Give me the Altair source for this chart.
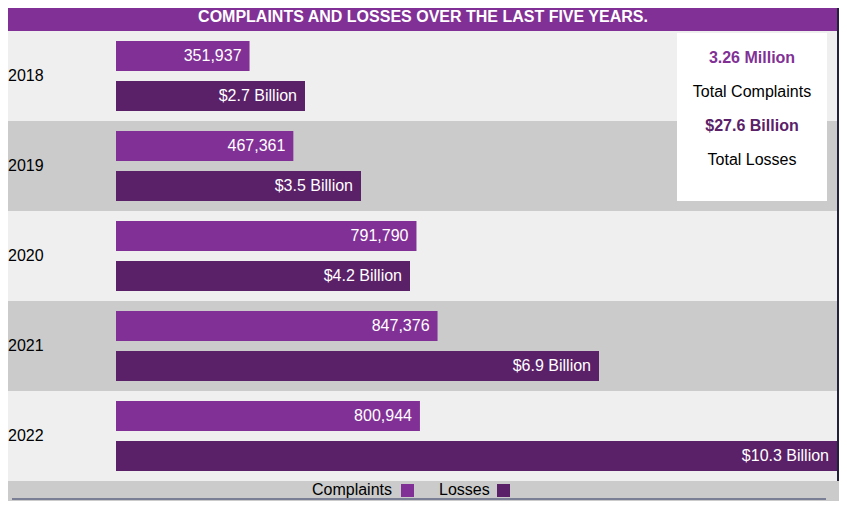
import altair as alt
import pandas as pd

# ---- data ----
years = ["2018", "2019", "2020", "2021", "2022"]
complaints = [351937, 467361, 791790, 847376, 800944]
losses = [2.7, 3.5, 4.2, 6.9, 10.3]
complaint_labels = ["351,937", "467,361", "791,790", "847,376", "800,944"]
loss_labels = ["$2.7 Billion", "$3.5 Billion", "$4.2 Billion", "$6.9 Billion", "$10.3 Billion"]
row_shades = ["light", "dark", "light", "dark", "light"]
series_names = ["Complaints", "Losses"]
summary_values = ["3.26 Million", "$27.6 Billion"]
summary_captions = ["Total Complaints", "Total Losses"]
title_text = "COMPLAINTS AND LOSSES OVER THE LAST FIVE YEARS."

# ---- style ----
W, H = 831, 493
FONT = "Liberation Sans"
C_PURPLE = "#813196"
C_DARK = "#5a2068"
C_LIGHT_BG = "#efefef"
C_DARK_BG = "#cbcbcb"
X0, X1 = 108, 829

rows = pd.DataFrame({"year": years, "shade": row_shades})
cdf = pd.DataFrame({"year": years, "series": "Complaints", "value": complaints, "label": complaint_labels})
ldf = pd.DataFrame({"year": years, "series": "Losses", "value": losses, "label": loss_labels})

yscale = alt.Scale(domain=years, range=[23, 473], paddingInner=0, paddingOuter=0)
yoff = alt.Scale(domain=series_names, paddingInner=0.25, paddingOuter=0.25)

bg_rows = alt.Chart(rows).mark_rect().encode(
    y=alt.Y("year:N", scale=yscale, axis=None),
    x=alt.value(0), x2=alt.value(W),
    color=alt.Color("shade:N", scale=alt.Scale(domain=["light", "dark"], range=[C_LIGHT_BG, C_DARK_BG]), legend=None),
)

year_text = alt.Chart(rows).mark_text(align="left", baseline="middle", font=FONT, fontSize=16, color="black").encode(
    y=alt.Y("year:N", scale=yscale, axis=None),
    x=alt.value(0),
    text="year:N",
)

def bars(df, domain, color):
    xs = alt.X("value:Q", scale=alt.Scale(domain=domain, range=[X0, X1], zero=True, nice=False), axis=None)
    b = alt.Chart(df).mark_bar(color=color, cornerRadius=0).encode(
        y=alt.Y("year:N", scale=yscale, axis=None),
        yOffset=alt.YOffset("series:N", scale=yoff),
        x=xs,
    )
    t = alt.Chart(df).mark_text(align="right", baseline="middle", dx=-8, font=FONT, fontSize=16, color="white").encode(
        y=alt.Y("year:N", scale=yscale, axis=None),
        yOffset=alt.YOffset("series:N", scale=yoff),
        x=xs,
        text="label:N",
    )
    return alt.layer(b, t)

comp_layer = bars(cdf, [0, 1900000], C_PURPLE)
loss_layer = bars(ldf, [0, 10.3], C_DARK)

title_df = pd.DataFrame({"t": [title_text]})
title_bar = alt.Chart(title_df).mark_rect(color=C_PURPLE).encode(
    x=alt.value(0), x2=alt.value(W), y=alt.value(0), y2=alt.value(23)
)
title_txt = alt.Chart(title_df).mark_text(font=FONT, fontSize=16, fontWeight="bold", color="white", baseline="middle").encode(
    x=alt.value(415), y=alt.value(9), text="t:N"
)
right_edge = alt.Chart(title_df).mark_rect(color="#22223a").encode(
    x=alt.value(W - 2), x2=alt.value(W), y=alt.value(0), y2=alt.value(473)
)

box = alt.Chart(title_df).mark_rect(color="white").encode(
    x=alt.value(669), x2=alt.value(819), y=alt.value(25), y2=alt.value(193)
)
sum_df = pd.DataFrame({
    "txt": [summary_values[0], summary_captions[0], summary_values[1], summary_captions[1]],
})
summary = []
ys = [50, 84, 118, 152]
cols = [C_PURPLE, "black", C_DARK, "black"]
wts = ["bold", "normal", "bold", "normal"]
for i in range(4):
    summary.append(
        alt.Chart(sum_df.iloc[[i]]).mark_text(font=FONT, fontSize=16, fontWeight=wts[i], color=cols[i], baseline="middle").encode(
            x=alt.value(744), y=alt.value(ys[i]), text="txt:N"
        )
    )

leg_bg = alt.Chart(title_df).mark_rect(color=C_DARK_BG).encode(
    x=alt.value(0), x2=alt.value(W), y=alt.value(473), y2=alt.value(H)
)
bottom_line = alt.Chart(title_df).mark_rect(color="#7a7f95").encode(
    x=alt.value(4), x2=alt.value(818), y=alt.value(490), y2=alt.value(492)
)
leg_df = pd.DataFrame({"name": series_names})
leg_items = []
text_x = [384, 431]
sq_x = [393, 489]
leg_cols = [C_PURPLE, C_DARK]
for i in range(2):
    leg_items.append(
        alt.Chart(leg_df.iloc[[i]]).mark_text(font=FONT, fontSize=16, align="right" if i == 0 else "left", baseline="middle", color="black").encode(
            x=alt.value(text_x[i]), y=alt.value(482), text="name:N"
        )
    )
    leg_items.append(
        alt.Chart(leg_df.iloc[[i]]).mark_rect(color=leg_cols[i]).encode(
            x=alt.value(sq_x[i]), x2=alt.value(sq_x[i] + 13), y=alt.value(476), y2=alt.value(489)
        )
    )

chart = alt.layer(
    bg_rows, year_text, comp_layer, loss_layer, title_bar, title_txt, right_edge, box, *summary,
    leg_bg, bottom_line, *leg_items
).resolve_scale(x="independent").properties(
    width=W, height=H, padding=0, autosize=alt.AutoSizeParams(type="none"), background="white"
).configure_view(stroke=None)

chart.save("out.html", embed_options={"renderer": "svg", "actions": False})
